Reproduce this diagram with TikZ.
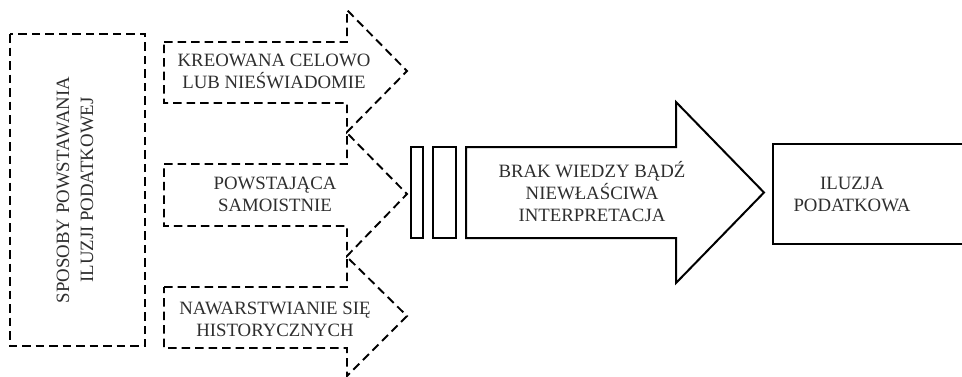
\documentclass[tikz,border=0pt]{standalone}
\usepackage{fontspec}
\setmainfont{Liberation Serif}
\begin{document}
\begin{tikzpicture}[x=1pt,y=-1pt,
  dashline/.style={draw=black,line width=1.9pt,dash pattern=on 8.5pt off 5pt},
  solidline/.style={draw=black,line width=2pt},
  lbl/.style={align=center,text=black!82,font=\fontsize{18.8}{22}\selectfont,inner sep=0pt}]
\useasboundingbox (0,0) rectangle (962,376);
\begin{scope}
\clip (0,0) rectangle (962,376);
% left dashed box
\draw[dashline] (10,34) rectangle (145,346);
\node[lbl,font=\fontsize{18.8}{24}\selectfont,rotate=90] (sposoby) at (75,190) {SPOSOBY POWSTAWANIA\\ILUZJI PODATKOWEJ};
% dashed arrows
\draw[dashline] (164,42) -- (347,42) -- (347,10) -- (407,71) -- (347,132) -- (347,103) -- (164,103) -- cycle;
\draw[dashline] (164,164) -- (347,164) -- (347,133) -- (407,194) -- (347,256) -- (347,226) -- (164,226) -- cycle;
\draw[dashline] (164,287) -- (347,287) -- (347,257) -- (407,316) -- (347,376) -- (347,348) -- (164,348) -- cycle;
\node[lbl] (kreowana) at (274,71) {KREOWANA CELOWO\\LUB NIEŚWIADOMIE};
\node[lbl] (powstajaca) at (275,194) {POWSTAJĄCA\\SAMOISTNIE};
\node[lbl] (nawarstwianie) at (275,319) {NAWARSTWIANIE SIĘ\\HISTORYCZNYCH};
% bars
\draw[solidline] (411,147) rectangle (423,238);
\draw[solidline] (433,147) rectangle (456,238);
% big arrow
\draw[solidline] (466,147) -- (676,147) -- (676,102) -- (764,192.5) -- (676,283) -- (676,238) -- (466,238) -- cycle;
\node[lbl] (brak) at (592,192) {BRAK WIEDZY BĄDŹ\\NIEWŁAŚCIWA\\INTERPRETACJA};
% right box
\draw[solidline] (773,144) rectangle (970,244);
\node[lbl] (iluzja) at (852,194) {ILUZJA\\PODATKOWA};
\end{scope}
\end{tikzpicture}
\end{document}
